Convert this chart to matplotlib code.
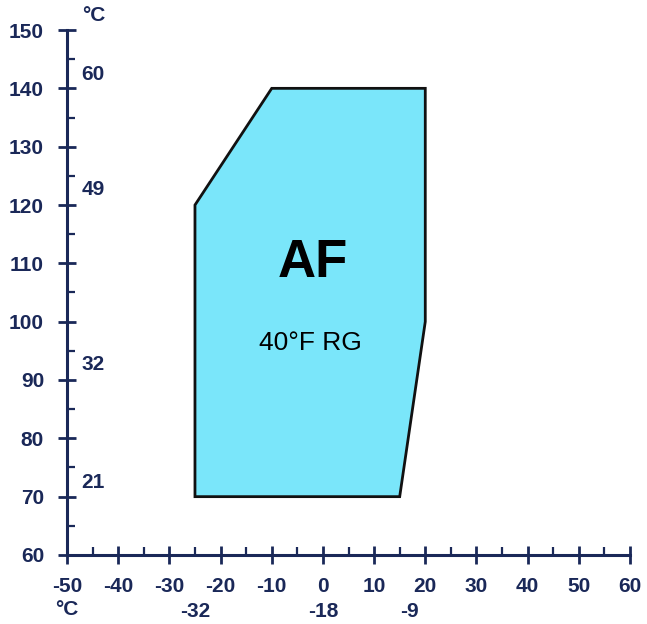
import matplotlib.pyplot as plt
import matplotlib.transforms as mtransforms
from matplotlib.patches import Polygon

# operating envelope, ambient °F (x) vs leaving water °F (y)
env_x = [-25, -25, -10, 20, 20, 15]
env_y = [70, 120, 140, 140, 100, 70]

x_ticks = list(range(-50, 61, 10))
y_ticks = list(range(60, 151, 10))

# secondary Celsius labels
c_y_labels = ['60', '49', '32', '21']
c_y_pos = [142.3, 122.6, 92.6, 72.4]
c_x_labels = ['-32', '-18', '-9']
c_x_pos = [-25, 0, 17]

navy = '#1a2858'
fill = '#7ae6fa'
fs = 15

plt.rcParams.update({
    'font.family': ['Liberation Sans', 'DejaVu Sans'],
    'font.weight': 'bold',
    'axes.unicode_minus': False,
})

fig = plt.figure(figsize=(6.47, 6.24), dpi=100)
ax = fig.add_axes([0.1036, 0.1106, 0.8701, 0.8413])

ax.set_xlim(-50, 60)
ax.set_ylim(60, 150)
for s in ['top', 'right']:
    ax.spines[s].set_visible(False)
for s in ['left', 'bottom']:
    ax.spines[s].set_color(navy)
    ax.spines[s].set_linewidth(2.2)

ax.set_xticks(x_ticks)
ax.set_yticks(y_ticks)
ax.set_xticks([v + 5 for v in x_ticks[:-1]], minor=True)
ax.set_yticks([v + 5 for v in y_ticks[:-1]], minor=True)
ax.tick_params(which='major', direction='inout', length=13, width=2,
               color=navy, labelcolor=navy, labelsize=fs)
ax.tick_params(which='minor', direction='in', length=5.5, width=1.6, color=navy)
ax.tick_params(axis='y', which='major', pad=10)
ax.tick_params(axis='x', which='major', pad=9)
for lbl in ax.get_xticklabels() + ax.get_yticklabels():
    lbl.set_fontweight('bold')

poly = Polygon(list(zip(env_x, env_y)), closed=True, facecolor=fill,
               edgecolor='#111111', linewidth=2, joinstyle='miter')
ax.add_patch(poly)

ax.text(-2, 110, 'AF', fontsize=38, fontweight='bold', color='black',
        ha='center', va='center')
ax.text(-2.5, 96.4, '40°F RG', fontsize=19, fontweight='normal',
        color='black', ha='center', va='center')

for lbl, yv in zip(c_y_labels, c_y_pos):
    ax.text(-47.2, yv, lbl, fontsize=fs, fontweight='bold', color=navy,
            ha='left', va='center')
ax.text(-47, 152.5, '°C', fontsize=fs, fontweight='bold', color=navy,
        ha='left', va='center', clip_on=False)

trans = mtransforms.blended_transform_factory(ax.transData, ax.transAxes)
ax.text(-50, -0.103, '°C', transform=trans, fontsize=fs, fontweight='bold',
        color=navy, ha='center', va='center')
for lbl, xv in zip(c_x_labels, c_x_pos):
    ax.text(xv, -0.108, lbl, transform=trans, fontsize=fs, fontweight='bold',
            color=navy, ha='center', va='center')

plt.savefig('out.png', dpi=100)
